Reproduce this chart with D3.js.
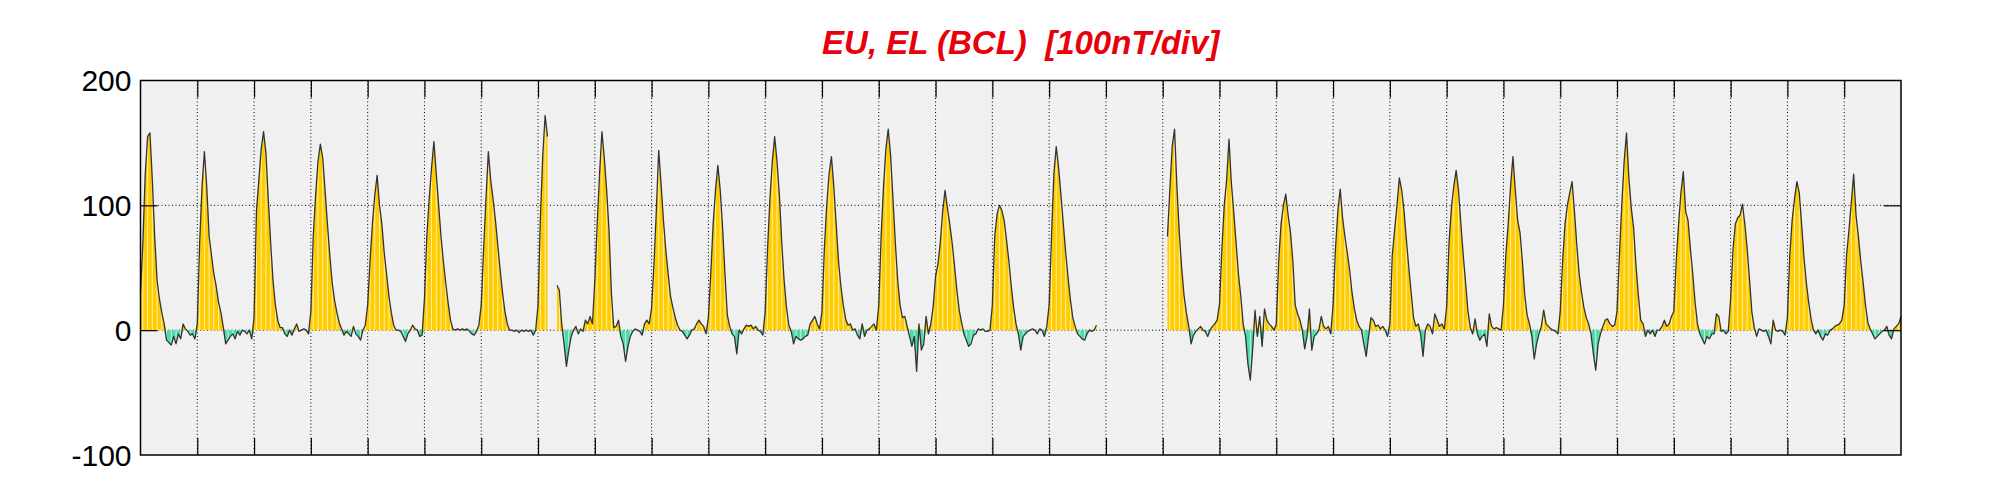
<!DOCTYPE html>
<html>
<head>
<meta charset="utf-8">
<script src="https://cdnjs.cloudflare.com/ajax/libs/d3/7.8.5/d3.min.js"></script>
<style>
  body { margin: 0; background: #fff; }
  .grid line { stroke: #000; stroke-width: 1; stroke-dasharray: 1,2.5; }
  .tick-label { font-family: "Liberation Sans", Arial, sans-serif; font-size: 30px; fill: #000; }
  .title { font-family: "Liberation Sans", Arial, sans-serif; font-size: 33px; font-weight: bold; font-style: italic; fill: #e8000b; white-space: pre; }
</style>
</head>
<body>
<script>
// chart text
var titleText = "EU, EL (BCL)  [100nT/div]";
var yTicks = [-100, 0, 100, 200];
var nDays = 31;

// hourly EU values (nT), one row per day, null = no data
var euHourly = [
  30,70,125,155,158,120,75,40,25,14,5,-8,-10,-12,-5,-11,-3,-7,5,1,-1,-4,-3,-7,
  5,70,115,143,115,75,60,45,35,22,14,2,-11,-8,-5,-3,-7,-1,-4,0,-1,-3,0,-7,
  10,95,120,145,159,142,105,70,40,20,8,2,2,-3,-5,0,-4,1,5,-1,0,1,0,-3,
  15,75,108,135,149,138,112,85,60,38,24,14,6,1,-4,-1,-3,-5,3,-3,-5,-8,0,4,
  20,55,85,108,124,100,85,62,45,27,14,4,0,0,-1,-5,-9,-3,0,4,1,0,-5,-4,
  25,75,105,130,151,125,100,75,55,38,22,8,1,0,1,0,1,0,1,-1,-3,-4,-1,4,
  20,65,105,143,120,105,88,68,48,30,15,5,0,0,-1,0,-2,0,-1,0,-1,0,-4,0,
  20,90,140,172,155,null,null,null,36,32,5,-11,-29,-16,-5,0,3,-3,1,-1,8,5,11,5,
  40,85,125,159,138,112,80,30,2,3,8,-5,-11,-25,-13,-5,-1,1,0,-1,-4,5,8,5,
  18,53,96,144,117,88,64,45,27,18,10,4,0,-1,-4,-7,-4,0,1,5,8,5,3,-3,
  10,45,85,112,132,112,82,45,12,3,-3,-5,-19,0,-3,1,4,3,4,1,3,0,-1,-4,
  15,65,105,135,155,135,108,70,40,18,4,-1,-11,-5,-7,-8,-7,-5,-4,5,8,11,5,1,
  15,65,100,125,139,115,85,55,35,20,9,4,5,0,1,-4,-7,5,-5,0,1,3,5,0,
  20,75,115,145,161,140,105,70,40,20,10,11,3,-5,-13,-5,-33,5,-16,-11,11,-3,5,19,
  43,53,70,95,112,98,85,70,52,32,16,6,-3,-8,-13,-11,-4,-3,1,0,1,-1,-1,0,
  20,75,93,100,96,88,72,55,35,18,5,-3,-16,-5,-3,-1,0,1,0,-3,1,0,-5,3,
  20,75,125,147,130,108,85,62,42,24,10,3,-3,-5,-7,-8,-3,0,-1,0,4,null,null,null,
  null,null,null,null,null,null,null,null,null,null,null,null,null,null,null,null,null,null,null,null,null,null,null,null,
  null,null,75,112,147,161,115,78,50,28,14,3,-11,-4,-1,1,3,0,-1,-5,0,3,5,8,
  21,65,100,120,153,118,95,70,45,27,5,-5,-27,-40,-16,16,-5,11,-13,17,8,5,3,0,
  5,55,85,100,109,92,78,55,20,13,8,0,-15,-5,17,-16,-5,-3,0,11,3,1,3,-3,
  20,65,95,113,90,75,62,48,30,17,8,3,0,-11,-21,-5,10,8,3,4,1,3,0,-5,
  5,60,80,100,122,112,95,72,50,30,10,3,5,-3,-21,0,5,3,-3,13,8,3,5,1,
  19,70,98,115,128,112,85,60,38,15,2,-3,9,-3,-8,-5,-3,-13,13,3,1,2,1,0,
  20,60,85,115,139,112,88,78,55,28,12,5,-5,-23,-11,-3,3,16,5,3,1,0,-1,-3,
  15,55,85,100,110,119,95,68,45,30,18,10,5,-3,-19,-32,-11,-3,3,8,9,5,3,4,
  15,60,100,135,158,122,98,82,52,28,8,5,-5,0,-3,0,-5,0,0,3,8,3,5,11,
  15,55,85,110,127,95,88,65,45,22,5,-3,-7,-11,-5,-7,-3,-3,13,11,-1,0,-3,-1,
  25,65,85,90,92,101,85,65,40,14,2,-5,1,0,-1,0,-5,-11,8,0,-1,0,-1,-4,
  10,60,88,105,119,110,85,58,38,22,9,0,-3,0,-5,-8,-3,-4,0,1,3,4,5,8,
  20,60,80,102,125,92,75,55,38,20,6,1,-3,-7,-5,-3,-1,0,3,-4,-7,1,3,5,
  11
];

var W = 2001, H = 500;
var margin = {top: 80.5, left: 140.5, right: 100, bottom: 45};
var width = W - margin.left - margin.right,
    height = H - margin.top - margin.bottom;

var data = euHourly.map(function(v, i){ return {h: i, v: v}; });

var x = d3.scaleLinear().domain([0, nDays * 24]).range([0, width]);
var y = d3.scaleLinear().domain([-100, 200]).range([height, 0]);

var svg = d3.select("body").append("svg")
  .attr("width", W).attr("height", H);

svg.append("text")
  .attr("class", "title")
  .attr("x", margin.left + width / 2)
  .attr("y", 54)
  .attr("text-anchor", "middle")
  .text(titleText);

var g = svg.append("g")
  .attr("transform", "translate(" + margin.left + "," + margin.top + ")");

g.append("rect")
  .attr("width", width).attr("height", height)
  .attr("fill", "#f0f0f0");

// dotted grid
var dayMarks = d3.range(1, nDays).map(function(d){ return d * 24; });
var grid = g.append("g").attr("class", "grid");
grid.selectAll(".vg").data(dayMarks).enter().append("line")
  .attr("x1", function(d){ return x(d); }).attr("x2", function(d){ return x(d); })
  .attr("y1", 0).attr("y2", height);
grid.selectAll(".hg").data([0, 100]).enter().append("line")
  .attr("x1", 0).attr("x2", width)
  .attr("y1", function(d){ return y(d); }).attr("y2", function(d){ return y(d); });

var def = function(d){ return d.v != null; };

var areaPos = d3.area().defined(def)
  .x(function(d){ return x(d.h); })
  .y0(y(0))
  .y1(function(d){ return y(Math.max(d.v, 0)); });
var areaNeg = d3.area().defined(def)
  .x(function(d){ return x(d.h); })
  .y0(y(0))
  .y1(function(d){ return y(Math.min(d.v, 0)); });

var clip = svg.append("defs").append("clipPath").attr("id", "fillclip");
clip.append("path").datum(data).attr("d", areaPos);
clip.append("path").datum(data).attr("d", areaNeg);

g.append("path").datum(data)
  .attr("fill", "#ffcc00")
  .attr("d", areaPos);
g.append("path").datum(data)
  .attr("fill", "#4ddba6")
  .attr("d", areaNeg);

// thin white stripes in the fill
var stripes = d3.range(1, nDays * 24, 2);
g.append("g").attr("clip-path", "url(#fillclip)")
  .selectAll("line").data(stripes).enter().append("line")
  .attr("x1", function(d){ return x(d); }).attr("x2", function(d){ return x(d); })
  .attr("y1", 0).attr("y2", height)
  .attr("stroke", "#fff").attr("stroke-width", 0.8).attr("stroke-opacity", 0.85);

var line = d3.line().defined(def)
  .x(function(d){ return x(d.h); })
  .y(function(d){ return y(d.v); });

g.append("path").datum(data)
  .attr("fill", "none")
  .attr("stroke", "#333")
  .attr("stroke-width", 1.3)
  .attr("stroke-linejoin", "round")
  .attr("d", line);

// axes with inward ticks on all four sides
var tickLen = 17;
g.append("g")
  .call(d3.axisTop(x).tickValues(dayMarks).tickSize(-tickLen).tickFormat(""))
  .call(function(a){ a.select(".domain").remove(); });
g.append("g").attr("transform", "translate(0," + height + ")")
  .call(d3.axisBottom(x).tickValues(dayMarks).tickSize(-tickLen).tickFormat(""))
  .call(function(a){ a.select(".domain").remove(); });
g.append("g")
  .call(d3.axisLeft(y).tickValues([0, 100]).tickSize(-tickLen).tickFormat(""))
  .call(function(a){ a.select(".domain").remove(); });
g.append("g").attr("transform", "translate(" + width + ",0)")
  .call(d3.axisRight(y).tickValues([0, 100]).tickSize(-tickLen).tickFormat(""))
  .call(function(a){ a.select(".domain").remove(); });
g.selectAll(".tick line").attr("stroke", "#000").attr("stroke-width", 1.2);

g.selectAll(".ylab").data(yTicks).enter().append("text")
  .attr("class", "tick-label")
  .attr("x", -9)
  .attr("y", function(d){ return y(d); })
  .attr("dy", "0.36em")
  .attr("text-anchor", "end")
  .text(function(d){ return d; });

g.append("rect")
  .attr("width", width).attr("height", height)
  .attr("fill", "none").attr("stroke", "#000").attr("stroke-width", 1.5);
</script>
</body>
</html>
